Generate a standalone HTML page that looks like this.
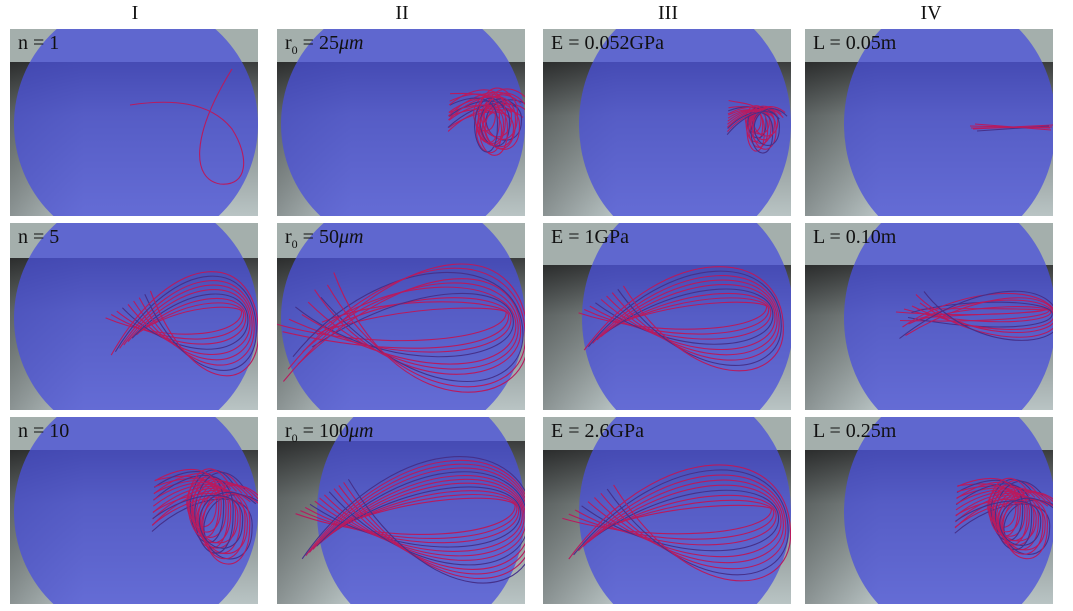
<!DOCTYPE html>
<html><head><meta charset="utf-8">
<style>
body{margin:0;background:#fff;width:1073px;height:611px;overflow:hidden;position:relative;font-family:"Liberation Serif",serif;}
.hdr{position:absolute;top:2px;font-size:20px;color:#111;transform:translateX(-50%);}
.panel{position:absolute;width:248px;height:187px;overflow:hidden;}
.panel svg{position:absolute;left:0;top:0;}
.lbl{position:absolute;left:8px;top:3px;font-size:20px;color:#111;white-space:nowrap;}
.lbl sub{font-size:12px;}
</style></head><body>
<div class="hdr" style="left:135px">I</div>
<div class="hdr" style="left:402px">II</div>
<div class="hdr" style="left:668px">III</div>
<div class="hdr" style="left:931px">IV</div>
<div id="root"></div>
<script>
const cols=[10,277,543,805];
const rows=[29,223,417];
const labels=[
 ["n = 1","r<sub>0</sub> = 25<i>μm</i>","E = 0.052GPa","L = 0.05m"],
 ["n = 5","r<sub>0</sub> = 50<i>μm</i>","E = 1GPa","L = 0.10m"],
 ["n = 10","r<sub>0</sub> = 100<i>μm</i>","E = 2.6GPa","L = 0.25m"]];
const circ=[
 [[126,95,122,125,33],[126,95,122,125,33],[142,95,106,125,33],[145,95,106,125,33]],
 [[126,95,122,125,35],[126,95,122,125,35],[145,95,106,125,42],[145,95,106,125,42]],
 [[126,95,122,125,33],[144,95,104,125,24],[142,95,106,125,33],[145,95,106,125,33]]];
function fish(xL,xR,yc,h,n,sp){let s=[];for(let i=0;i<n;i++){const d=(i-(n-1)/2)*sp;const k=((i*37)%n)/n-0.5;const a=h*0.35+d*0.8;const w=xR-xL;
 s.push(`M${xL+d*0.8},${yc-a+k*20} C${xL+w*(0.45+k*0.2)},${yc+h+d} ${xR+d*0.3},${yc+h*0.8+d} ${xR+d*0.3},${yc+d*0.4} C${xR+d*0.3},${yc-h*0.9-d} ${xL+w*(0.45-k*0.2)},${yc-h-d} ${xL-d*0.6},${yc+a-k*20}`);}return s;}
function tangle(cx,cy,rx,ry,n){let s=[];for(let i=0;i<n;i++){const r=i*37%n/n;const x=cx+(r-0.5)*rx*0.6,y=cy+((i*53%n)/n-0.5)*ry*0.6;const a=rx*(0.6+0.4*r),b=ry*(0.6+0.4*((i*29%n)/n));
 s.push(`M${x-a*1.7},${y-b*0.3+(r-0.5)*30} C${x-a*0.5},${y-b*1.1} ${x+a*1.1},${y-b*1.2} ${x+a},${y} C${x+a},${y+b*1.2} ${x-a*0.2},${y+b*1.1} ${x-a*0.3},${y} C${x-a*0.3},${y-b*0.8} ${x+a*0.6},${y-b*1.4} ${x+a*1.4},${y-b*0.6}`);}return s;}
const strands=[
 [["M120,76 C160,70 200,72 222,100 C240,128 238,158 210,155 C182,150 180,108 222,40"],
  tangle(210,95,28,32,14), tangle(212,98,20,24,12),
  ["M165,97 L245,99","M168,100 L248,96","M170,95 L246,101","M172,102 L244,97","M166,99 L247,98"]],
 [fish(118,240,100,50,9,7), fish(28,240,104,62,10,8), fish(58,232,95,50,9,7), fish(105,248,92,20,8,5)],
 [tangle(195,100,38,45,16), fish(45,248,102,62,12,6), fish(45,238,105,55,9,8), tangle(200,102,36,38,16)]];
const root=document.getElementById('root');
let html='';
for(let r=0;r<3;r++)for(let c=0;c<4;c++){
 const [cx,cy,rx,ry,hz]=circ[r][c];
 const id=`g${r}${c}`;
 let paths=strands[r][c].map((d,i)=>`<path d="${d}" fill="none" stroke="${i%4==3?'#46308a':'#b81a5e'}" stroke-width="1.1"/>`).join('');
 html+=`<div class="panel" style="left:${cols[c]}px;top:${rows[r]}px">
 <svg width="248" height="187" viewBox="0 0 248 187">
 <defs><linearGradient id="${id}v" x1="0" y1="0" x2="0" y2="1"><stop offset="0" stop-color="#3a3c3c"/><stop offset="0.35" stop-color="#7d8584"/><stop offset="1" stop-color="#b9c4c4"/></linearGradient>
 <linearGradient id="${id}h" x1="0" y1="0" x2="1" y2="0"><stop offset="0" stop-color="#000" stop-opacity="0.25"/><stop offset="0.3" stop-color="#000" stop-opacity="0"/></linearGradient></defs>
 <rect x="0" y="${hz}" width="248" height="${187-hz}" fill="url(#${id}v)"/>
 <rect x="0" y="${hz}" width="248" height="${187-hz}" fill="url(#${id}h)"/>
 <rect x="0" y="0" width="248" height="${hz}" fill="#a4afac"/>
 <ellipse cx="${cx}" cy="${cy}" rx="${rx}" ry="${ry}" fill="rgb(74,80,218)" fill-opacity="0.76"/>
 ${paths}
 </svg>
 <div class="lbl">${labels[r][c]}</div></div>`;
}
root.innerHTML=html;
</script>
</body></html>
